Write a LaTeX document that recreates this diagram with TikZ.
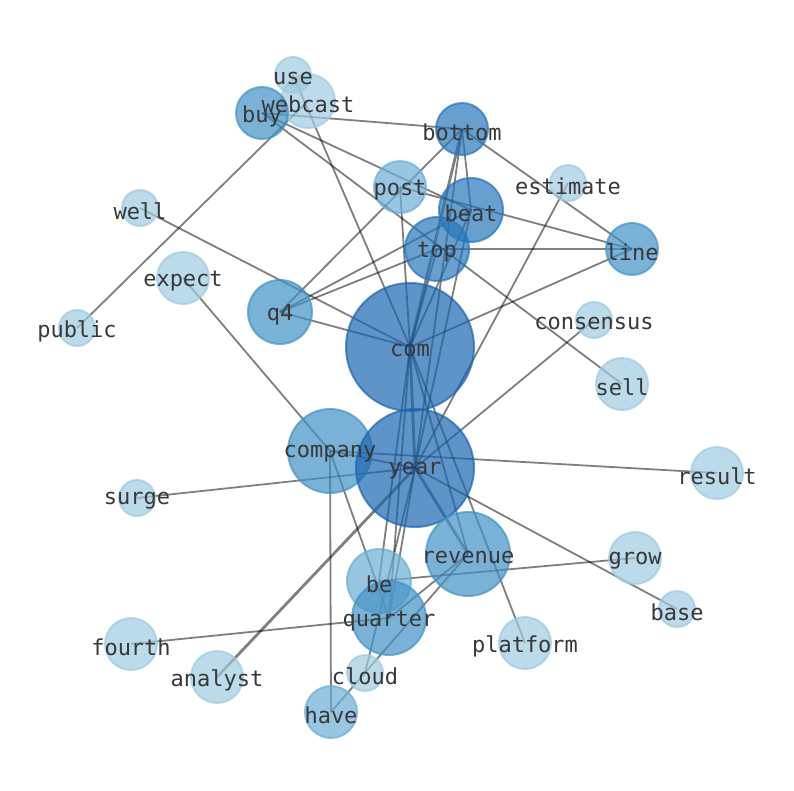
\documentclass[tikz,border=0pt]{standalone}
\usepackage{fontspec}
\newfontfamily\wordfont{DejaVu Sans Mono}
\usetikzlibrary{backgrounds}
\pgfdeclarelayer{words}
\pgfsetlayers{background,main,words}

\definecolor{wlight}{RGB}{158,202,225}
\definecolor{wmid}{RGB}{107,174,214}
\definecolor{wdeep}{RGB}{66,146,198}
\definecolor{wdark}{RGB}{38,118,186}
\definecolor{whub}{RGB}{26,102,175}

\tikzset{
  word/.style={circle, inner sep=0pt, line width=2pt, fill opacity=0.7, draw opacity=0.7},
  lightword/.style={word, fill=wlight, draw=wlight},
  midword/.style={word, fill=wmid, draw=wmid},
  deepword/.style={word, fill=wdeep, draw=wdeep},
  darkword/.style={word, fill=wdark, draw=wdark},
  hubword/.style={word, fill=whub, draw=whub},
  wordlabel/.style={inner sep=0pt, yshift=-3pt, text=black!78, font=\wordfont\fontsize{22}{26}\selectfont},
  link/.style={draw=black, draw opacity=0.5, line width=1.8pt},
  heavylink/.style={link, line width=2.8pt}
}

\begin{document}
\begin{tikzpicture}[x=1pt, y=-1pt]
    \path[use as bounding box] (0,0) rectangle (794,790);
    % nodes
    \node[lightword, minimum size=36pt] (use) at (293,75) {};
    \node[lightword, minimum size=54pt] (webcast) at (308,101) {};
    \node[deepword, minimum size=52pt] (buy) at (262,113) {};
    \node[darkword, minimum size=52pt] (bottom) at (462,129) {};
    \node[lightword, minimum size=36pt] (estimate) at (568,183) {};
    \node[midword, minimum size=52pt] (post) at (400,187) {};
    \node[darkword, minimum size=64pt] (beat) at (471,210) {};
    \node[darkword, minimum size=64pt] (top) at (437,249) {};
    \node[deepword, minimum size=52pt] (line) at (632,249) {};
    \node[lightword, minimum size=36pt] (well) at (140,208) {};
    \node[lightword, minimum size=52pt] (expect) at (183,278) {};
    \node[deepword, minimum size=64pt] (q4) at (280,312) {};
    \node[lightword, minimum size=36pt] (public) at (77,328) {};
    \node[hubword, minimum size=128pt] (com) at (410,347) {};
    \node[lightword, minimum size=36pt] (consensus) at (594,320) {};
    \node[lightword, minimum size=52pt] (sell) at (622,384) {};
    \node[deepword, minimum size=84pt] (company) at (330,451) {};
    \node[hubword, minimum size=118pt] (year) at (415,468) {};
    \node[lightword, minimum size=52pt] (result) at (717,473) {};
    \node[lightword, minimum size=36pt] (surge) at (137,498) {};
    \node[deepword, minimum size=84pt] (revenue) at (468,554) {};
    \node[lightword, minimum size=52pt] (grow) at (635,558) {};
    \node[midword, minimum size=64pt] (be) at (379,581) {};
    \node[lightword, minimum size=36pt] (base) at (677,609) {};
    \node[deepword, minimum size=74pt] (quarter) at (389,618) {};
    \node[lightword, minimum size=52pt] (fourth) at (131,644) {};
    \node[lightword, minimum size=52pt] (platform) at (525,643) {};
    \node[lightword, minimum size=52pt] (analyst) at (217,677) {};
    \node[lightword, minimum size=36pt] (cloud) at (365,673) {};
    \node[midword, minimum size=52pt] (have) at (331,712) {};

    % links, under the nodes
    \begin{scope}[on background layer]
        \draw[link] (buy.center) -- (bottom.center);
        \draw[link] (buy.center) -- (beat.center);
        \draw[link] (buy.center) -- (sell.center);
        \draw[link] (webcast.center) -- (public.center);
        \draw[link] (use.center) -- (com.center);
        \draw[link] (q4.center) -- (bottom.center);
        \draw[link] (q4.center) -- (top.center);
        \draw[link] (q4.center) -- (beat.center);
        \draw[link] (q4.center) -- (com.center);
        \draw[link] (well.center) -- (com.center);
        \draw[link] (post.center) -- (com.center);
        \draw[link] (post.center) -- (line.center);
        \draw[link] (bottom.center) -- (line.center);
        \draw[link] (bottom.center) -- (beat.center);
        \draw[heavylink] (bottom.center) -- (com.center);
        \draw[link] (bottom.center) -- (year.center);
        \draw[link] (beat.center) -- (com.center);
        \draw[link] (beat.center) -- (year.center);
        \draw[link] (top.center) -- (com.center);
        \draw[link] (top.center) -- (line.center);
        \draw[link] (com.center) -- (line.center);
        \draw[heavylink] (com.center) -- (year.center);
        \draw[link] (com.center) -- (revenue.center);
        \draw[link] (com.center) -- (platform.center);
        \draw[link] (com.center) -- (quarter.center);
        \draw[link] (com.center) -- (be.center);
        \draw[link] (year.center) -- (company.center);
        \draw[link] (year.center) -- (surge.center);
        \draw[heavylink] (year.center) -- (analyst.center);
        \draw[heavylink] (year.center) -- (revenue.center);
        \draw[link] (year.center) -- (quarter.center);
        \draw[link] (year.center) -- (cloud.center);
        \draw[link] (year.center) -- (consensus.center);
        \draw[link] (year.center) -- (estimate.center);
        \draw[link] (year.center) -- (base.center);
        \draw[link] (company.center) -- (result.center);
        \draw[link] (company.center) -- (expect.center);
        \draw[link] (company.center) -- (have.center);
        \draw[link] (company.center) -- (quarter.center);
        \draw[link] (revenue.center) -- (quarter.center);
        \draw[link] (revenue.center) -- (have.center);
        \draw[link] (be.center) -- (grow.center);
        \draw[link] (fourth.center) -- (quarter.center);
    \end{scope}

    % words on top
    \begin{pgfonlayer}{words}
        \node[wordlabel] at (use) {use};
        \node[wordlabel] at (webcast) {webcast};
        \node[wordlabel] at (buy) {buy};
        \node[wordlabel] at (bottom) {bottom};
        \node[wordlabel] at (estimate) {estimate};
        \node[wordlabel] at (post) {post};
        \node[wordlabel] at (beat) {beat};
        \node[wordlabel] at (top) {top};
        \node[wordlabel] at (line) {line};
        \node[wordlabel] at (well) {well};
        \node[wordlabel] at (expect) {expect};
        \node[wordlabel] at (q4) {q4};
        \node[wordlabel] at (public) {public};
        \node[wordlabel] at (com) {com};
        \node[wordlabel] at (consensus) {consensus};
        \node[wordlabel] at (sell) {sell};
        \node[wordlabel] at (company) {company};
        \node[wordlabel] at (year) {year};
        \node[wordlabel] at (result) {result};
        \node[wordlabel] at (surge) {surge};
        \node[wordlabel] at (revenue) {revenue};
        \node[wordlabel] at (grow) {grow};
        \node[wordlabel] at (be) {be};
        \node[wordlabel] at (base) {base};
        \node[wordlabel] at (quarter) {quarter};
        \node[wordlabel] at (fourth) {fourth};
        \node[wordlabel] at (platform) {platform};
        \node[wordlabel] at (analyst) {analyst};
        \node[wordlabel] at (cloud) {cloud};
        \node[wordlabel] at (have) {have};
    \end{pgfonlayer}
\end{tikzpicture}
\end{document}
